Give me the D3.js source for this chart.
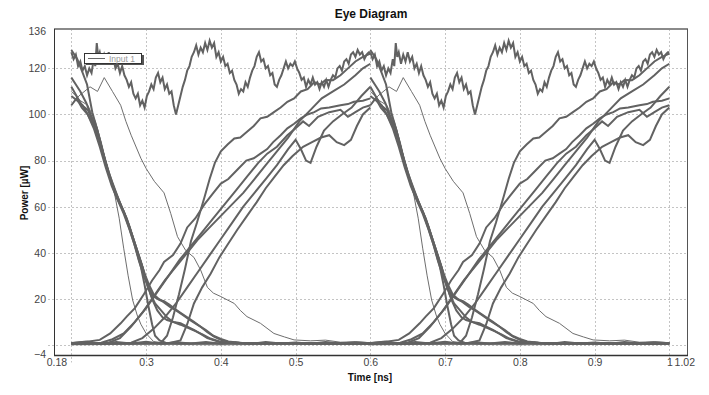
<!DOCTYPE html>
<html><head><meta charset="utf-8">
<script src="https://cdn.jsdelivr.net/npm/d3@7"></script>
<style>body{margin:0;background:#fff}svg{display:block}</style>
</head><body>
<svg id="chart" width="709" height="395"></svg>
<script>
// ---- axes / ticks ----
const xTickValues = [0.18, 0.3, 0.4, 0.5, 0.6, 0.7, 0.8, 0.9, 1, 1.02];
const xGridValues = [0.2, 0.3, 0.4, 0.5, 0.6, 0.7, 0.8, 0.9, 1.0];
const yTickValues = [-4, 20, 40, 60, 80, 100, 120, 136];
const yGridValues = [0, 20, 40, 60, 80, 100, 120];
// eye windows (each 0.4 ns) -- the traces below are given relative to window start
const windowStarts = [0.2, 0.6];

// ---- traces [time offset in window (ns), power (uW)] ----
const highTrace = [[0,127],[0.003,124],[0.006,126],[0.009,121],[0.012,123],[0.015,119],[0.018,121],[0.021,117],[0.024,120],[0.027,118],[0.03,124],[0.032,121],[0.034,131],[0.036,125],[0.038,127],[0.041,122],[0.044,126],[0.047,123],[0.05,127],[0.053,123],[0.056,125],[0.059,120],[0.062,122],[0.065,118],[0.068,121],[0.071,117],[0.074,115],[0.077,112],[0.08,114],[0.083,109],[0.086,107],[0.089,109],[0.092,104],[0.095,106],[0.098,103],[0.101,108],[0.104,110],[0.107,113],[0.11,111],[0.113,116],[0.116,118],[0.119,114],[0.122,116],[0.125,111],[0.128,113],[0.131,109],[0.134,110],[0.137,104],[0.14,100],[0.143,104],[0.146,108],[0.149,112],[0.152,115],[0.155,119],[0.158,121],[0.161,125],[0.164,127],[0.167,130],[0.17,126],[0.173,129],[0.176,127],[0.179,131],[0.182,128],[0.185,132],[0.188,129],[0.191,131],[0.194,125],[0.197,127],[0.2,123],[0.203,125],[0.206,121],[0.209,122],[0.212,118],[0.215,119],[0.218,115],[0.221,113],[0.224,109],[0.227,111],[0.23,110],[0.233,114],[0.236,112],[0.239,116],[0.242,119],[0.245,121],[0.248,125],[0.251,127],[0.254,123],[0.257,124],[0.26,120],[0.263,121],[0.266,117],[0.269,118],[0.272,113],[0.275,112],[0.278,115],[0.281,117],[0.284,120],[0.287,123],[0.29,120],[0.293,122],[0.296,121],[0.299,123],[0.302,120],[0.305,118],[0.308,115],[0.311,116],[0.314,112],[0.317,115],[0.32,113],[0.323,116],[0.326,113],[0.329,114],[0.332,111],[0.335,114],[0.338,112],[0.341,115],[0.344,112],[0.347,115],[0.35,117],[0.353,116],[0.356,120],[0.359,121],[0.362,119],[0.365,123],[0.368,124],[0.371,122],[0.374,126],[0.377,127],[0.38,125],[0.383,128],[0.386,126],[0.389,127],[0.392,124],[0.395,126],[0.398,127],[0.4,127]];
const fall1 = [[0,128],[0.008,124],[0.014,119],[0.021,113],[0.028,101],[0.035,93],[0.044,81],[0.052,72],[0.058,66],[0.065,61],[0.071,57],[0.078,50],[0.084,44],[0.09,37],[0.097,30],[0.104,24],[0.11,21],[0.118,19.5],[0.124,19],[0.131,17.5],[0.137,16],[0.146,14],[0.155,12],[0.164,10],[0.173,7.9],[0.182,5.5],[0.191,3.6],[0.2,2.2],[0.209,1.4],[0.22,1],[0.24,0.8],[0.27,0.9],[0.3,0.7],[0.34,0.8],[0.37,0.6],[0.4,0.7]];
const fall2 = [[0,116],[0.006,113],[0.012,110],[0.02,105],[0.027,99],[0.034,94],[0.042,84],[0.05,75],[0.056,69],[0.063,63],[0.07,58],[0.077,52],[0.084,45],[0.091,38],[0.098,31],[0.104,26],[0.11,22],[0.117,20],[0.124,18.5],[0.132,16.5],[0.14,15],[0.15,12.8],[0.16,10.5],[0.17,8.5],[0.18,6.5],[0.19,4],[0.2,2.6],[0.21,1.5],[0.225,1],[0.26,0.8],[0.3,0.9],[0.35,0.6],[0.4,0.8]];
const fall3 = [[0,112],[0.007,108],[0.014,104],[0.022,102],[0.03,96],[0.037,90],[0.045,80],[0.052,73],[0.06,66],[0.067,60],[0.074,55],[0.081,48],[0.088,41],[0.095,34],[0.102,26],[0.108,20],[0.115,15],[0.122,12],[0.128,10.8],[0.137,10],[0.146,9.4],[0.155,8],[0.164,6.5],[0.173,4.8],[0.182,3],[0.191,2],[0.2,1.2],[0.22,0.8],[0.26,0.7],[0.3,0.6],[0.35,0.8],[0.4,0.6]];
const fall4 = [[0,108],[0.008,106],[0.015,104],[0.022,100],[0.03,95],[0.038,88],[0.046,79],[0.054,70],[0.062,64],[0.07,58],[0.078,51],[0.086,43],[0.094,35],[0.1,28],[0.106,22],[0.112,18],[0.12,15],[0.128,12],[0.136,10],[0.146,8.8],[0.156,7.4],[0.166,6],[0.176,4.5],[0.186,2.8],[0.198,1.5],[0.21,1],[0.25,0.7],[0.3,0.8],[0.35,0.6],[0.4,0.7]];
const fall5 = [[0,104],[0.007,107],[0.014,103],[0.022,100],[0.03,94],[0.038,86],[0.046,77],[0.054,69],[0.062,63],[0.07,57],[0.078,50],[0.086,42],[0.093,34],[0.098,26],[0.103,17],[0.108,9],[0.112,4],[0.118,2],[0.126,1],[0.15,0.7],[0.2,0.8],[0.25,0.6],[0.3,0.7],[0.35,0.6],[0.4,0.7]];
const fallSteepThin = [[0,110],[0.012,106],[0.022,104],[0.032,97],[0.04,88],[0.049,76],[0.057,67],[0.064,55],[0.07,42],[0.076,30],[0.082,19.5],[0.088,13],[0.093,9],[0.1,5],[0.11,1.5],[0.13,0.6],[0.2,0.5],[0.3,0.5],[0.4,0.5]];
const fallSlowThin = [[0,104],[0.01,108],[0.025,112],[0.035,110],[0.044,116],[0.055,110],[0.066,104],[0.073,97],[0.08,91],[0.093,81],[0.1,76.6],[0.111,71],[0.124,66],[0.133,57],[0.142,47],[0.153,41],[0.164,38],[0.173,32.5],[0.182,25],[0.19,22.5],[0.2,21],[0.218,18],[0.226,15],[0.235,12.3],[0.253,9.4],[0.271,5],[0.285,3.5],[0.298,2.2],[0.32,1.8],[0.34,2.1],[0.36,1.2],[0.38,1.4],[0.4,1]];
const rise1 = [[0,0.9],[0.021,1.4],[0.038,2.2],[0.052,5],[0.066,9.4],[0.074,12.3],[0.085,16],[0.097,22],[0.108,28],[0.118,32.5],[0.124,36],[0.136,39],[0.146,44],[0.155,51],[0.166,55],[0.178,61],[0.19,66],[0.2,70],[0.21,72],[0.222,76],[0.234,80],[0.244,81],[0.253,83],[0.262,85],[0.27,88],[0.28,91],[0.289,94],[0.298,96],[0.307,98.3],[0.316,100],[0.325,101],[0.334,102.6],[0.345,103],[0.36,104],[0.37,104.5],[0.378,105.5],[0.39,106],[0.4,107]];
const rise2 = [[0,0.7],[0.1,0.8],[0.12,1],[0.128,4],[0.136,12],[0.144,22],[0.152,33],[0.16,45],[0.168,53],[0.178,64],[0.185,72],[0.192,79],[0.2,84],[0.209,87],[0.218,89.6],[0.226,90],[0.235,92.5],[0.244,95],[0.253,98.3],[0.262,99],[0.271,101],[0.28,103],[0.289,105.5],[0.298,107],[0.307,110],[0.316,111],[0.325,114],[0.333,113],[0.34,115],[0.35,114.9],[0.36,117],[0.37,120],[0.38,123],[0.39,125],[0.4,126.4]];
const rise3 = [[0,0.6],[0.04,1],[0.055,2.5],[0.07,5],[0.085,10],[0.1,16],[0.115,23],[0.13,30],[0.145,37],[0.16,43],[0.175,49],[0.19,55],[0.205,61],[0.22,67],[0.235,73],[0.25,79],[0.262,83],[0.275,86],[0.289,91],[0.3,94],[0.31,97],[0.318,95],[0.33,99],[0.345,101],[0.36,102],[0.37,99],[0.38,101],[0.39,103],[0.4,104]];
const rise4 = [[0,0.5],[0.08,1],[0.095,3],[0.11,7],[0.125,12],[0.14,18],[0.155,25],[0.17,32],[0.185,39],[0.2,46],[0.215,53],[0.23,60],[0.245,66],[0.26,72],[0.275,78],[0.29,85],[0.3,89],[0.307,85],[0.314,80],[0.32,79],[0.328,86],[0.338,93],[0.35,97],[0.362,100],[0.375,103],[0.388,108],[0.4,112]];
const rise5 = [[0,0.5],[0.13,0.8],[0.146,2],[0.155,9],[0.164,18],[0.175,25],[0.1865,31],[0.198,38],[0.21,44],[0.222,50],[0.235,56],[0.248,62],[0.26,68],[0.272,73],[0.284,78],[0.296,82],[0.31,86],[0.322,88],[0.334,90],[0.345,91],[0.355,88],[0.365,86.7],[0.374,89],[0.382,95],[0.39,100],[0.4,103]];
const rise6 = [[0,0.7],[0.05,1],[0.065,3],[0.08,8],[0.095,14],[0.11,21],[0.125,28],[0.14,34],[0.155,40],[0.17,46],[0.185,51],[0.2,56],[0.215,61],[0.23,66],[0.245,72],[0.26,78],[0.275,84],[0.29,90],[0.305,97],[0.32,102],[0.335,107],[0.35,110],[0.365,113],[0.38,117],[0.39,120],[0.4,122]];
const lowNoisy = [[0,0.8],[0.02,1.5],[0.04,0.4],[0.06,1.3],[0.08,0.6],[0.1,1.4],[0.12,0.5],[0.14,1.2],[0.16,0.6],[0.18,1.3],[0.2,0.5],[0.22,1.2],[0.24,0.4],[0.26,1.3],[0.28,0.6],[0.3,1.1],[0.32,0.5],[0.34,1.3],[0.36,0.6],[0.38,1.2],[0.4,0.8]];
const lowThin = [[0,0.1],[0.1,0.3],[0.2,0.1],[0.3,0.3],[0.4,0.2]];

const noisyTraces = [highTrace, fall1, fall2, fall3, fall4, fall5, rise1, rise2, rise3, rise4, rise5, rise6, lowNoisy];
const thinTraces = [fallSteepThin, fallSlowThin, lowThin];

// ---- layout ----
const svg = d3.select('#chart');
const frame = {left: 54, right: 688, top: 29, bottom: 355.5};
const x = d3.scaleLinear().domain([0.18, 1.02]).range([56.4, 684.3]);
const y = d3.scaleLinear().domain([-4, 136]).range([354.2, 31.5]);
const font = 'Liberation Sans, Arial, sans-serif';

// grid
const grid = svg.append('g').attr('stroke', '#c4c4c4').attr('stroke-dasharray', '2,2').attr('stroke-width', 1);
grid.selectAll('.vx').data(xGridValues).join('line')
  .attr('x1', d => Math.round(x(d)) + 0.5).attr('x2', d => Math.round(x(d)) + 0.5)
  .attr('y1', frame.top).attr('y2', frame.bottom + 7);
grid.selectAll('.hy').data(yGridValues).join('line')
  .attr('y1', d => Math.round(y(d)) + 0.5).attr('y2', d => Math.round(y(d)) + 0.5)
  .attr('x1', frame.left - 6).attr('x2', frame.right);

// traces
const line = d3.line().x(d => x(d[0])).y(d => y(d[1]));
const traceG = svg.append('g').attr('fill', 'none');
windowStarts.forEach(w => {
  const shift = tr => tr.map(p => [p[0] + w, p[1]]);
  traceG.selectAll(null).data(thinTraces).enter().append('path')
    .attr('d', d => line(shift(d))).attr('stroke', '#6e6e6e').attr('stroke-width', 1);
  traceG.selectAll(null).data(noisyTraces).enter().append('path')
    .attr('d', d => line(shift(d))).attr('stroke', '#626262').attr('stroke-width', 2)
    .attr('stroke-linejoin', 'miter');
});

// frame
svg.append('line').attr('x1', frame.left).attr('x2', frame.right).attr('y1', frame.top).attr('y2', frame.top)
  .attr('stroke', '#8a8a8a').attr('stroke-width', 2);
svg.append('line').attr('x1', frame.right - 0.5).attr('x2', frame.right - 0.5).attr('y1', frame.top).attr('y2', frame.bottom)
  .attr('stroke', '#555').attr('stroke-width', 1);
svg.append('line').attr('x1', frame.left + 0.5).attr('x2', frame.left + 0.5).attr('y1', frame.top).attr('y2', frame.bottom)
  .attr('stroke', '#333').attr('stroke-width', 1);
svg.append('line').attr('x1', frame.left).attr('x2', frame.right).attr('y1', frame.bottom).attr('y2', frame.bottom)
  .attr('stroke', '#333').attr('stroke-width', 1.5);

// axes labels via d3 axes (lines hidden)
const xAxis = d3.axisBottom(x).tickValues(xTickValues).tickSize(0).tickPadding(3).tickFormat(d3.format('~g'));
const gx = svg.append('g').attr('transform', `translate(0,${frame.bottom})`).call(xAxis);
gx.select('.domain').remove();
gx.selectAll('text').attr('font-family', font).attr('font-size', 10.5).attr('fill', '#444');
const yAxis = d3.axisLeft(y).tickValues(yTickValues).tickSize(0).tickPadding(8).tickFormat(d3.format('~g'));
const gy = svg.append('g').attr('transform', `translate(${frame.left},0)`).call(yAxis);
gy.select('.domain').remove();
gy.selectAll('text').attr('font-family', font).attr('font-size', 10.5).attr('fill', '#444');

// titles
svg.append('text').attr('x', 371).attr('y', 18).attr('text-anchor', 'middle')
  .attr('font-family', font).attr('font-weight', 'bold').attr('font-size', 12).attr('fill', '#111').text('Eye Diagram');
svg.append('text').attr('x', 370).attr('y', 381).attr('text-anchor', 'middle')
  .attr('font-family', font).attr('font-weight', 'bold').attr('font-size', 10).attr('fill', '#111').text('Time [ns]');
svg.append('text').attr('transform', 'translate(28,193) rotate(-90)').attr('text-anchor', 'middle')
  .attr('font-family', font).attr('font-weight', 'bold').attr('font-size', 10).attr('fill', '#111').text('Power [µW]');

// legend
const lg = svg.append('g');
lg.append('rect').attr('x', 86).attr('y', 55).attr('width', 58).attr('height', 10).attr('fill', '#555');
lg.append('rect').attr('x', 84.5).attr('y', 53.5).attr('width', 57).attr('height', 10).attr('fill', '#fff').attr('stroke', '#333');
lg.append('line').attr('x1', 88).attr('x2', 105).attr('y1', 58.5).attr('y2', 58.5).attr('stroke', '#666');
lg.append('text').attr('x', 109).attr('y', 61.5).attr('font-family', font).attr('font-size', 8.5).attr('fill', '#999').text('Input 1');
</script>
</body></html>
